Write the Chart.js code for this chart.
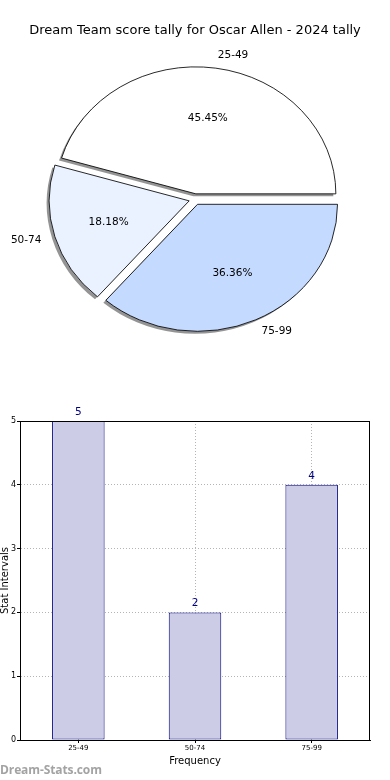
<!DOCTYPE html>
<html>
<head>
<meta charset="utf-8">
<script src="https://cdn.jsdelivr.net/npm/chart.js@4.4.1/dist/chart.umd.min.js"></script>
<style>
  html, body { margin: 0; padding: 0; background: #fff; }
  #wrap { position: relative; width: 390px; height: 780px; overflow: hidden; }
  #pie { position: absolute; left: 0; top: 0; }
  #bar { position: absolute; left: 0; top: 380px; }
  #mark {
    position: absolute; left: 0; top: 761px;
    font: bold 12px "Open Sans", sans-serif; color: #a3a3a3; letter-spacing: -0.1px;
  }
</style>
</head>
<body>
<div id="wrap">
  <canvas id="pie" width="390" height="380"></canvas>
  <canvas id="bar" width="390" height="400"></canvas>
  <div id="mark">Dream-Stats.com</div>
</div>
<script>
/* ---------- data ---------- */
const chartTitle = "Dream Team score tally for Oscar Allen - 2024 tally";
const intervals = ["25-49", "50-74", "75-99"];
const tally = [5, 2, 4];
const sliceColors = ["#ffffff", "#eaf2ff", "#c5daff"];
const yTicks = [0, 1, 2, 3, 4, 5];

const FONT = "DejaVu Sans";

/* ---------- pie (matplotlib style: ccw from 3 o'clock, elliptical) ---------- */
const SX = 140 / 127;       // horizontal stretch of the pie
const EXPLODE = 5.5;        // px the slices are pushed out
const SHADOW = "rgba(0,0,0,0.42)";
const SHX = -2.5, SHY = 2.5; // shadow offset
const pieOrder = [2, 1, 0]; // Chart.js goes clockwise, so reverse

// draw every arc pushed out along its mid angle
function drawArcs(ctx, arcs, dx, dy, override) {
  arcs.forEach(arc => {
    const mid = (arc.startAngle + arc.endAngle) / 2;
    const o = arc.options;
    ctx.save();
    ctx.translate(Math.cos(mid) * EXPLODE + dx, Math.sin(mid) * EXPLODE + dy);
    if (override) arc.options = Object.assign({}, o, override);
    arc.draw(ctx);
    arc.options = o;
    ctx.restore();
  });
}

const pieStyle = {
  id: "pieStyle",
  beforeDatasetsDraw(chart) {
    const ctx = chart.ctx;
    const arcs = chart.getDatasetMeta(0).data;
    const cx = arcs[0].x, cy = arcs[0].y;
    ctx.save();
    ctx.translate(cx, cy);
    ctx.scale(SX, 1);
    ctx.translate(-cx, -cy);
    drawArcs(ctx, arcs, SHX / SX, SHY, { backgroundColor: SHADOW, borderWidth: 0 });
    drawArcs(ctx, arcs, 0, 0, null);
    ctx.restore();
    return false;
  },
  afterDraw(chart) {
    const ctx = chart.ctx;
    const ds = chart.data.datasets[0];
    const total = ds.data.reduce((s, v) => s + v, 0);
    ctx.save();
    ctx.fillStyle = "#000";
    ctx.font = "10.5px '" + FONT + "'";
    ctx.textBaseline = "middle";
    chart.getDatasetMeta(0).data.forEach((arc, i) => {
      const mid = (arc.startAngle + arc.endAngle) / 2;
      const r = arc.outerRadius;
      const c = Math.cos(mid), s = Math.sin(mid);

      // category label
      const lx = arc.x + SX * c * (1.1 * r + EXPLODE);
      const ly = arc.y + s * (1.1 * r + EXPLODE);
      ctx.textAlign = c >= 0 ? "left" : "right";
      ctx.fillText(chart.data.labels[i], lx, ly);

      // percentage
      const px = arc.x + SX * c * (0.6 * r + EXPLODE);
      const py = arc.y + s * (0.6 * r + EXPLODE);
      ctx.textAlign = "center";
      ctx.fillText((ds.data[i] / total * 100).toFixed(2) + "%", px, py);
    });
    ctx.restore();
  }
};

new Chart(document.getElementById("pie"), {
  type: "pie",
  data: {
    labels: pieOrder.map(i => intervals[i]),
    datasets: [{
      data: pieOrder.map(i => tally[i]),
      backgroundColor: pieOrder.map(i => sliceColors[i]),
      borderColor: "#000",
      borderWidth: 0.8,
      offset: 0,
      hoverOffset: 0
    }]
  },
  options: {
    responsive: false,
    animation: false,
    rotation: 90,
    radius: 127,
    layout: { padding: { top: 0, bottom: 30, left: 0, right: 0 } },
    plugins: {
      legend: { display: false },
      tooltip: { enabled: false },
      title: {
        display: true,
        text: chartTitle,
        color: "#000",
        font: { family: FONT, size: 13, weight: "normal" },
        padding: { top: 23, bottom: 10 }
      }
    }
  },
  plugins: [pieStyle]
});

/* ---------- bar ---------- */
const barExtras = {
  id: "barExtras",
  afterDraw(chart) {
    const ctx = chart.ctx;
    const a = chart.chartArea;
    ctx.save();
    // full frame
    ctx.strokeStyle = "#000";
    ctx.lineWidth = 1;
    ctx.strokeRect(a.left + 0.5, a.top + 0.5, a.right - a.left - 1, a.bottom - a.top);
    // values above bars
    ctx.fillStyle = "#000080";
    ctx.font = "10.5px '" + FONT + "'";
    ctx.textAlign = "center";
    ctx.textBaseline = "middle";
    chart.getDatasetMeta(0).data.forEach((bar, i) => {
      ctx.fillText(String(chart.data.datasets[0].data[i]), bar.x, bar.y - 9);
    });
    ctx.restore();
  }
};

const gridStyle = {
  color: "#b4b4b4",
  lineWidth: 1,
  tickLength: 3,
  tickColor: "#000",
  tickBorderDash: []
};

new Chart(document.getElementById("bar"), {
  type: "bar",
  data: {
    labels: intervals,
    datasets: [{
      data: tally,
      backgroundColor: "#ccccE6",
      borderColor: "#000080",
      borderWidth: 1,
      borderSkipped: false,
      barPercentage: 0.45,
      categoryPercentage: 1
    }]
  },
  options: {
    responsive: false,
    animation: false,
    layout: { padding: { top: 41, right: 20, left: 0, bottom: 0 } },
    plugins: { legend: { display: false }, tooltip: { enabled: false } },
    scales: {
      x: {
        z: 1,
        grid: Object.assign({ offset: false }, gridStyle),
        border: { dash: [1, 2], color: "#000", width: 1 },
        ticks: { font: { family: FONT, size: 7 }, color: "#000", padding: 1, maxRotation: 0 },
        title: {
          display: true, text: "Frequency", color: "#000",
          font: { family: FONT, size: 10, lineHeight: 1.2 },
          padding: { top: 0, bottom: 13 }
        },
        afterFit(s) { s.height = 40; }
      },
      y: {
        z: 1,
        min: yTicks[0],
        max: yTicks[yTicks.length - 1],
        grid: gridStyle,
        border: { dash: [1, 2], color: "#000", width: 1 },
        ticks: {
          stepSize: 1, font: { family: FONT, size: 8 }, color: "#000", padding: 1,
          callback: v => yTicks.includes(v) ? String(v) : ""
        },
        title: {
          display: true, text: "Stat Intervals", color: "#000",
          font: { family: FONT, size: 10, lineHeight: 1 },
          padding: { top: 0, bottom: 0 }
        },
        afterFit(s) { s.width = 20; }
      }
    }
  },
  plugins: [barExtras]
});
</script>
</body>
</html>
